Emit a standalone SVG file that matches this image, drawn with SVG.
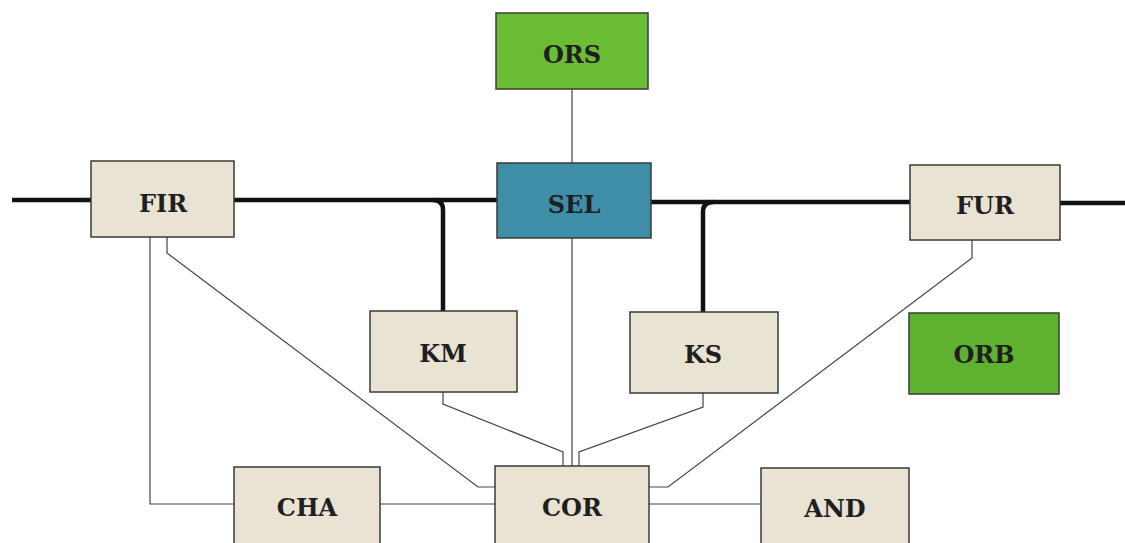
<svg xmlns="http://www.w3.org/2000/svg" width="1125" height="543" viewBox="0 0 1125 543">
<style>
.box{stroke:#3a3a36;stroke-width:1.5}
.beige{fill:#e8e3d3}
.green{fill:#6cbd36}
.green2{fill:#5fb130}
.blue{fill:#3f8ea8}
.lbl{font-family:"DejaVu Serif",serif;font-weight:bold;font-size:24px;fill:#1f1f1f;text-anchor:middle}
.thin{fill:none;stroke:#444;stroke-width:1.2}
.thick{fill:none;stroke:#111;stroke-width:4.5}
</style>
<rect width="1125" height="543" fill="#fff"/>
<g id="connectors">
<path class="thick" d="M12 200 H91"/>
<path class="thick" d="M234 200 H497"/>
<path class="thick" d="M433 200 Q443 200 443 210 V311"/>
<path class="thick" d="M651 202 H910"/>
<path class="thick" d="M713 202 Q703 202 703 212 V312"/>
<path class="thick" d="M1060 203 H1125"/>
<path class="thin" d="M572 89 V163"/>
<path class="thin" d="M150 237 V504 H234"/>
<path class="thin" d="M167 237 V253 L478 487 H495"/>
<path class="thin" d="M380 504 H495"/>
<path class="thin" d="M443 392 V404 L563 452 V466"/>
<path class="thin" d="M572 238 V466"/>
<path class="thin" d="M703 393 V407 L579 452 V466"/>
<path class="thin" d="M972 240 V258 L668 487 H649"/>
<path class="thin" d="M649 504 H761"/>
</g>
<g id="ORS"><rect class="box green" x="496" y="13" width="152" height="76"/><text class="lbl" x="572" y="63">ORS</text></g>
<g id="FIR"><rect class="box beige" x="91" y="161" width="143" height="76"/><text class="lbl" x="163" y="212">FIR</text></g>
<g id="SEL"><rect class="box blue" x="497" y="163" width="154" height="75"/><text class="lbl" x="574" y="213">SEL</text></g>
<g id="FUR"><rect class="box beige" x="910" y="165" width="150" height="75"/><text class="lbl" x="985" y="214">FUR</text></g>
<g id="KM"><rect class="box beige" x="370" y="311" width="147" height="81"/><text class="lbl" x="443" y="362">KM</text></g>
<g id="KS"><rect class="box beige" x="630" y="312" width="148" height="81"/><text class="lbl" x="703" y="363">KS</text></g>
<g id="ORB"><rect class="box green2" x="909" y="313" width="150" height="81"/><text class="lbl" x="984" y="363">ORB</text></g>
<g id="CHA"><rect class="box beige" x="234" y="467" width="146" height="82"/><text class="lbl" x="307" y="516">CHA</text></g>
<g id="COR"><rect class="box beige" x="495" y="466" width="154" height="83"/><text class="lbl" x="572" y="516">COR</text></g>
<g id="AND"><rect class="box beige" x="761" y="468" width="148" height="81"/><text class="lbl" x="835" y="517">AND</text></g>
</svg>
